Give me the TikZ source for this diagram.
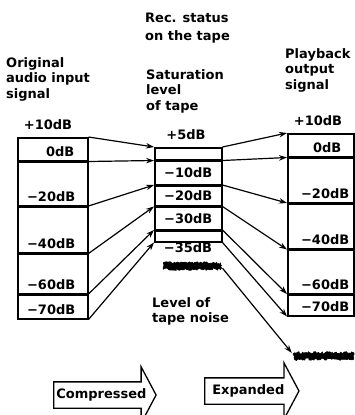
\documentclass[tikz,border=0pt]{standalone}
\usepackage{fontspec}
\setmainfont{DejaVu Sans}
\usetikzlibrary{arrows.meta,positioning,shapes.arrows,decorations.pathmorphing}
\tikzset{
  dbx text/.style={
    font=\fontsize{13}{15.5}\selectfont\bfseries,
    inner sep=0pt
  },
  dbx title/.style={dbx text,align=left,anchor=north west},
  dbx cell/.style={
    draw=black,
    line width=1.5pt,
    anchor=north west,
    inner sep=0pt
  },
  dbx in/.style={dbx cell,minimum width=70pt},
  dbx rec/.style={dbx cell,minimum width=67pt},
  dbx out/.style={dbx cell,minimum width=66pt},
  dbx level/.style={dbx text,anchor=base east},
  dbx arrow/.style={-{Stealth[length=8pt,width=5.5pt]},line width=1.2pt},
  dbx noise/.style={
    decorate,
    decoration={random steps,segment length=1.1pt,amplitude=1.3pt},
    draw=black,
    fill=black,
    line width=0.7pt,
    line join=round
  },
  dbx stage/.style={
    dbx text,
    shape=single arrow,
    draw=black,
    line width=1.3pt,
    single arrow head extend=15pt,
    single arrow tip angle=124,
    single arrow head indent=0pt,
    text height=9pt,
    text depth=3pt,
    inner ysep=6.5pt,
    anchor=tail
  }
}

\begin{document}
\begin{tikzpicture}[x=1pt,y=-1pt]
  \useasboundingbox (0,0) rectangle (354,415);
  \pgfmathsetseed{11}

  \node[dbx title] (input-title) at (6,57) {Original\\audio input\\signal};
  \node[dbx title] (rec-title) at (145,13) {Rec. status\\[2.5pt]on the tape};
  \node[dbx title] (sat-title) at (146,69) {Saturation\\level\\of tape};
  \node[dbx title] (output-title) at (285,48) {Playback\\output\\signal};

  \node[dbx text] (in-top) at (48,125) {+10dB};
  \node[dbx text] (rec-top) at (186,135) {+5dB};
  \node[dbx text] (out-top) at (318,121) {+10dB};

  \node[dbx in,minimum height=23pt] (in0) at (17,137) {};
  \node[dbx in,minimum height=43pt] (in20) at (in0.south west) {};
  \node[dbx in,minimum height=46pt] (in40) at (in20.south west) {};
  \node[dbx in,minimum height=39pt] (in60) at (in40.south west) {};
  \node[dbx in,minimum height=24pt] (in70) at (in60.south west) {};

  \node[dbx level] at ([xshift=-14pt,yshift=5pt]in0.south east) {0dB};
  \node[dbx level] at ([xshift=-13pt,yshift=5pt]in20.south east) {−20dB};
  \node[dbx level] at ([xshift=-13pt,yshift=5pt]in40.south east) {−40dB};
  \node[dbx level] at ([xshift=-13pt,yshift=5pt]in60.south east) {−60dB};
  \node[dbx level] at ([xshift=-13pt,yshift=5pt]in70.south east) {−70dB};

  \node[dbx rec,minimum height=12pt] (rec5) at (154,147) {};
  \node[dbx rec,minimum height=23pt,dbx text] (rec10) at (rec5.south west) {−10dB};
  \node[dbx rec,minimum height=20pt,dbx text] (rec20) at (rec10.south west) {−20dB};
  \node[dbx rec,minimum height=22pt,dbx text] (rec30) at (rec20.south west) {−30dB};
  \node[dbx rec,minimum height=11pt] (rec35) at (rec30.south west) {};
  \node[dbx text] (rec-bottom) at (188,248) {−35dB};

  \node[dbx out,minimum height=23pt] (out0) at (287,133) {};
  \node[dbx out,minimum height=44pt] (out20) at (out0.south west) {};
  \node[dbx out,minimum height=45pt] (out40) at (out20.south west) {};
  \node[dbx out,minimum height=43pt] (out60) at (out40.south west) {};
  \node[dbx out,minimum height=21pt] (out70) at (out60.south west) {};

  \node[dbx level] at ([xshift=-13pt,yshift=5pt]out0.south east) {0dB};
  \node[dbx level] at ([xshift=-5pt,yshift=5pt]out20.south east) {−20dB};
  \node[dbx level] at ([xshift=-5pt,yshift=5pt]out40.south east) {−40dB};
  \node[dbx level] at ([xshift=-5pt,yshift=5pt]out60.south east) {−60dB};
  \node[dbx level] at ([xshift=-5pt,yshift=5pt]out70.south east) {−70dB};

  \draw[dbx arrow] (in0.north east) -- (rec5.north west);
  \draw[dbx arrow] (in0.south east) -- (rec5.south west);
  \draw[dbx arrow] (in20.south east) -- (rec10.south west);
  \draw[dbx arrow] (in40.south east) -- (rec20.south west);
  \draw[dbx arrow] (in60.south east) -- (rec30.south west);
  \draw[dbx arrow] (in70.south east) -- (rec35.south west);

  \draw[dbx arrow] (rec5.north east) -- (out0.north west);
  \draw[dbx arrow] (rec5.south east) -- (out0.south west);
  \draw[dbx arrow] (rec10.south east) -- (out20.south west);
  \draw[dbx arrow] (rec20.south east) -- (out40.south west);
  \draw[dbx arrow] (rec30.south east) -- (out60.south west);
  \draw[dbx arrow] (rec35.south east) -- (out70.south west);

  \node[minimum width=57pt,minimum height=6pt,inner sep=0pt] (noise-rec) at (192,266) {};
  \draw[dbx noise] (noise-rec.south west) rectangle (noise-rec.north east);
  \node[minimum width=59pt,minimum height=6pt,inner sep=0pt] (noise-out) at (324,356) {};
  \draw[dbx noise] (noise-out.south west) rectangle (noise-out.north east);
  \draw[dbx arrow,shorten <=3pt,shorten >=4pt] (noise-rec.east) -- (noise-out.west);

  \node[dbx title] (noise-title) at (152,297) {Level of\\tape noise};

  \node[dbx stage,inner xsep=2pt] (compressed) at (53,395) {Compressed};
  \node[dbx stage,inner xsep=7pt] (expanded) at (204,391) {Expanded};
\end{tikzpicture}
\end{document}
